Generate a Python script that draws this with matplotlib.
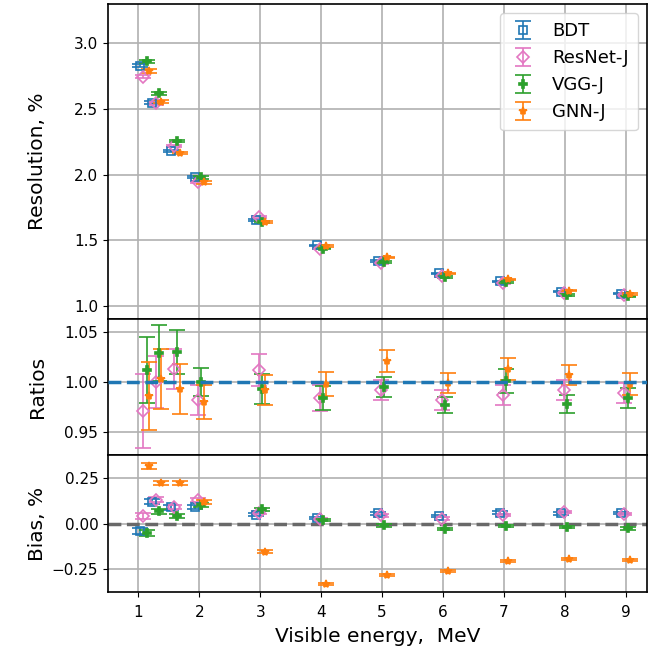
import matplotlib
matplotlib.use("Agg")
import matplotlib.pyplot as plt
import numpy as np

# Visible energies (MeV) and models
energy = [1.1, 1.3, 1.6, 2.0, 3.0, 4.0, 5.0, 6.0, 7.0, 8.0, 9.0]
models = ["BDT", "ResNet-J", "VGG-J", "GNN-J"]

# Resolution, %
res_bdt = [2.83, 2.547, 2.18, 1.983, 1.653, 1.46, 1.341, 1.248, 1.187, 1.108, 1.093]
res_resnet = [2.745, 2.543, 2.217, 1.946, 1.674, 1.437, 1.328, 1.226, 1.171, 1.10, 1.082]
res_vgg = [2.865, 2.62, 2.255, 1.979, 1.638, 1.437, 1.335, 1.219, 1.183, 1.082, 1.072]
res_gnn = [2.79, 2.555, 2.166, 1.94, 1.638, 1.457, 1.37, 1.247, 1.201, 1.115, 1.09]
res_err = [0.012, 0.011, 0.01, 0.009, 0.007, 0.006, 0.006, 0.005, 0.005, 0.005, 0.005]

# Ratios to BDT
rat_resnet = [0.971, 1.0, 1.013, 0.982, 1.012, 0.984, 0.992, 0.982, 0.987, 0.992, 0.989]
rat_resnet_err = [0.037, 0.026, 0.02, 0.015, 0.016, 0.013, 0.01, 0.01, 0.01, 0.01, 0.01]
rat_vgg = [1.012, 1.029, 1.03, 1.0, 0.993, 0.984, 0.995, 0.977, 1.001, 0.978, 0.984]
rat_vgg_err = [0.033, 0.028, 0.022, 0.014, 0.015, 0.012, 0.01, 0.008, 0.012, 0.009, 0.01]
rat_gnn = [0.986, 1.003, 0.993, 0.98, 0.992, 0.998, 1.021, 0.999, 1.013, 1.007, 0.998]
rat_gnn_err = [0.034, 0.03, 0.025, 0.017, 0.015, 0.012, 0.011, 0.01, 0.011, 0.01, 0.011]

# Bias, %
bias_bdt = [-0.04, 0.12, 0.088, 0.091, 0.049, 0.031, 0.055, 0.04, 0.06, 0.055, 0.058]
bias_resnet = [0.04, 0.131, 0.091, 0.128, 0.058, 0.024, 0.045, 0.027, 0.045, 0.064, 0.051]
bias_vgg = [-0.05, 0.067, 0.04, 0.1, 0.078, 0.018, -0.01, -0.028, -0.015, -0.018, -0.027]
bias_gnn = [0.315, 0.222, 0.222, 0.118, -0.155, -0.332, -0.283, -0.26, -0.206, -0.196, -0.201]
bias_err = [0.016, 0.013, 0.012, 0.01, 0.008, 0.007, 0.007, 0.006, 0.006, 0.006, 0.006]

colors = ["#1f77b4", "#e377c2", "#2ca02c", "#ff7f0e"]
markers = ["s", "D", "P", "*"]
fills = ["none", "none", None, None]
msizes = [5.5, 6.5, 5.5, 6]
offsets = [-0.07, -0.02, 0.035, 0.075]

E = np.array(energy)
fig = plt.figure(figsize=(6.48, 6.52), dpi=100)
W, H = 648, 652
left, right = 108 / W, 647 / W
ax1 = fig.add_axes([left, 1 - 319 / H, right - left, 315 / H])
ax2 = fig.add_axes([left, 1 - 455 / H, right - left, 136 / H], sharex=ax1)
ax3 = fig.add_axes([left, 1 - 592 / H, right - left, 137 / H], sharex=ax1)


def style(i):
    kw = dict(fmt=markers[i], color=colors[i], ms=msizes[i], capsize=6,
              elinewidth=1.2, capthick=1.2, mew=1.2, label=models[i])
    if fills[i]:
        kw["mfc"] = fills[i]
    return kw


res = [res_bdt, res_resnet, res_vgg, res_gnn]
for i in range(4):
    ax1.errorbar(E + offsets[i], res[i], yerr=res_err, **style(i))

ax2.axhline(1.0, color=colors[0], ls="--", lw=2.5, zorder=3)
rats = [(rat_resnet, rat_resnet_err), (rat_vgg, rat_vgg_err), (rat_gnn, rat_gnn_err)]
for i, (r, e) in enumerate(rats, start=1):
    ax2.errorbar(E + offsets[i], r, yerr=e, **style(i))

ax3.axhline(0.0, color="dimgray", ls="--", lw=2.5, zorder=1.5)
bias = [bias_bdt, bias_resnet, bias_vgg, bias_gnn]
for i in range(4):
    ax3.errorbar(E + offsets[i], bias[i], yerr=bias_err, **style(i))

ax1.set_ylim(0.9, 3.3)
ax1.set_yticks([1.0, 1.5, 2.0, 2.5, 3.0])
ax2.set_ylim(0.927, 1.063)
ax2.set_yticks([0.95, 1.00, 1.05])
ax3.set_ylim(-0.376, 0.376)
ax3.set_yticks([-0.25, 0.0, 0.25])
ax3.set_xlim(0.5, 9.35)
ax3.set_xticks(range(1, 10))

for ax in (ax1, ax2, ax3):
    ax.grid(True, color="#b0b0b0", lw=1.2)
    ax.set_axisbelow(True)
    ax.tick_params(labelsize=11)
    for s in ax.spines.values():
        s.set_linewidth(1.2)
ax1.tick_params(labelbottom=False)
ax2.tick_params(labelbottom=False)
ax3.tick_params(axis="x", pad=6)

ax1.set_ylabel("Resolution, %", fontsize=14.5)
ax2.set_ylabel("Ratios", fontsize=14.5)
ax3.set_ylabel("Bias, %", fontsize=14.5)
ax3.set_xlabel("Visible energy,  MeV", fontsize=14.5, labelpad=5)
for ax in (ax1, ax2, ax3):
    ax.yaxis.set_label_coords(-0.113, 0.5)

ax1.legend(loc="upper right", fontsize=13, handlelength=1.6, borderpad=0.5)

fig.savefig("out.png", dpi=100)
